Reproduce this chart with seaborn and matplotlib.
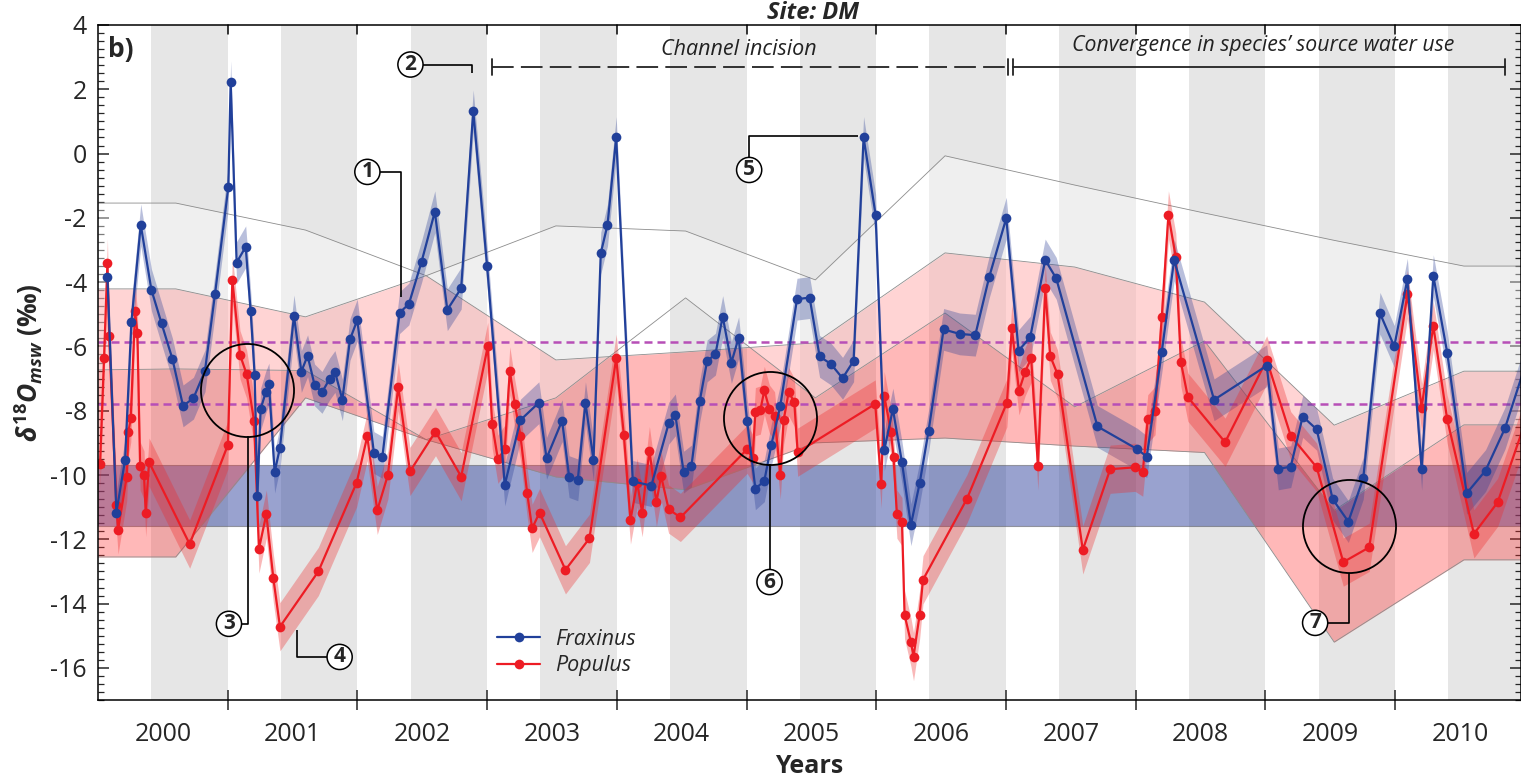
import numpy as np
import pandas as pd
import matplotlib.pyplot as plt
import seaborn as sns
from matplotlib.ticker import MultipleLocator, FixedLocator, NullFormatter

# ── data ────────────────────────────────────────────────────
frax_t = [2000.073, 2000.142, 2000.209, 2000.258, 2000.330, 2000.412, 2000.490, 2000.574,
          2000.656, 2000.736, 2000.825, 2000.902, 2001.005, 2001.023, 2001.069, 2001.139,
          2001.177, 2001.208, 2001.229, 2001.254, 2001.293, 2001.318, 2001.362, 2001.403,
          2001.511, 2001.568, 2001.616, 2001.670, 2001.727, 2001.786, 2001.827, 2001.884,
          2001.943, 2001.999, 2002.127, 2002.192, 2002.325, 2002.397, 2002.495, 2002.597,
          2002.693, 2002.800, 2002.893, 2003.000, 2003.136, 2003.257, 2003.399, 2003.458,
          2003.578, 2003.632, 2003.699, 2003.758, 2003.820, 2003.876, 2003.928, 2003.995,
          2004.123, 2004.266, 2004.400, 2004.451, 2004.515, 2004.575, 2004.639, 2004.696,
          2004.760, 2004.816, 2004.883, 2004.939, 2005.004, 2005.068, 2005.137, 2005.191,
          2005.260, 2005.389, 2005.486, 2005.563, 2005.651, 2005.740, 2005.825, 2005.902,
          2005.995, 2006.062, 2006.128, 2006.198, 2006.267, 2006.334, 2006.403, 2006.519,
          2006.642, 2006.763, 2006.871, 2007.002, 2007.097, 2007.187, 2007.302, 2007.387,
          2007.705, 2008.013, 2008.085, 2008.201, 2008.296, 2008.604, 2009.010, 2009.099,
          2009.195, 2009.287, 2009.395, 2009.518, 2009.639, 2009.754, 2009.883, 2009.993,
          2010.094, 2010.204, 2010.294, 2010.401, 2010.551, 2010.697, 2010.846, 2011.050]
frax_v = [-3.83, -11.17, -9.53, -5.23, -2.22, -4.24, -5.28, -6.39,
          -7.85, -7.61, -6.76, -4.38, -1.05, 2.24, -3.39, -2.90,
          -4.90, -6.89, -10.65, -7.95, -7.43, -7.17, -9.91, -9.15,
          -5.05, -6.78, -6.29, -7.20, -7.43, -7.01, -6.78, -7.66,
          -5.78, -5.18, -9.30, -9.45, -4.95, -4.68, -3.36, -1.81,
          -4.86, -4.19, 1.33, -3.50, -10.31, -8.29, -7.75, -9.48,
          -8.31, -10.05, -10.15, -7.75, -9.53, -3.10, -2.22, 0.50,
          -10.20, -10.33, -8.39, -8.13, -9.91, -9.72, -7.70, -6.45,
          -6.24, -5.07, -6.50, -5.73, -8.31, -10.43, -10.18, -9.06,
          -7.85, -4.53, -4.48, -6.31, -6.55, -6.99, -6.45, 0.50,
          -1.91, -9.22, -7.95, -9.61, -11.55, -10.26, -8.63, -5.47,
          -5.61, -5.65, -3.83, -2.01, -6.13, -5.71, -3.31, -3.88,
          -8.49, -9.20, -9.43, -6.16, -3.31, -7.66, -6.60, -9.81,
          -9.74, -8.18, -8.58, -10.75, -11.45, -10.10, -4.97, -6.00,
          -3.91, -9.82, -3.80, -6.19, -10.57, -9.86, -8.55, -6.00]

pop_t = [2000.016, 2000.047, 2000.073, 2000.086, 2000.142, 2000.155, 2000.222, 2000.235,
         2000.253, 2000.286, 2000.304, 2000.325, 2000.355, 2000.368, 2000.394, 2000.707,
         2001.002, 2001.036, 2001.095, 2001.146, 2001.203, 2001.241, 2001.298, 2001.352,
         2001.403, 2001.699, 2001.994, 2002.076, 2002.153, 2002.235, 2002.315, 2002.405,
         2002.602, 2002.800, 2003.005, 2003.039, 2003.083, 2003.136, 2003.175, 2003.214,
         2003.257, 2003.309, 2003.347, 2003.404, 2003.604, 2003.789, 2003.995, 2004.054,
         2004.105, 2004.157, 2004.195, 2004.251, 2004.305, 2004.341, 2004.399, 2004.490,
         2005.004, 2005.047, 2005.068, 2005.106, 2005.137, 2005.176, 2005.216, 2005.260,
         2005.286, 2005.325, 2005.368, 2005.394, 2005.992, 2006.038, 2006.061, 2006.113,
         2006.133, 2006.159, 2006.198, 2006.218, 2006.267, 2006.287, 2006.334, 2006.360,
         2006.699, 2007.007, 2007.045, 2007.100, 2007.148, 2007.194, 2007.246, 2007.302,
         2007.341, 2007.397, 2007.592, 2007.803, 2007.995, 2008.054, 2008.093, 2008.149,
         2008.201, 2008.252, 2008.309, 2008.348, 2008.402, 2008.689, 2009.010, 2009.195,
         2009.395, 2009.600, 2009.800, 2010.094, 2010.204, 2010.294, 2010.401, 2010.607,
         2010.790, 2011.050]
pop_v = [-9.66, -6.35, -3.40, -5.67, -10.93, -11.71, -10.05, -8.65,
         -8.23, -4.90, -5.59, -9.72, -10.00, -11.17, -9.60, -12.15,
         -9.06, -3.93, -6.26, -6.86, -8.31, -12.30, -11.22, -13.21,
         -14.72, -13.00, -10.24, -8.80, -11.10, -10.00, -7.25, -9.89,
         -8.65, -10.05, -6.00, -8.42, -9.51, -9.20, -6.76, -7.80,
         -8.78, -10.57, -11.66, -11.17, -12.95, -11.97, -6.37, -8.75,
         -11.40, -10.24, -11.17, -9.24, -10.85, -10.03, -11.06, -11.32,
         -9.20, -9.48, -8.03, -7.98, -7.37, -7.95, -8.16, -10.00,
         -8.29, -7.41, -7.74, -9.29, -7.79, -10.28, -7.53, -8.65,
         -9.45, -11.22, -11.45, -14.35, -15.20, -15.65, -14.35, -13.26,
         -10.74, -7.75, -5.43, -7.38, -6.78, -6.37, -9.72, -4.19,
         -6.30, -6.86, -12.33, -9.82, -9.76, -9.91, -8.25, -8.00,
         -5.09, -1.91, -3.23, -6.49, -7.58, -8.98, -6.42, -8.78,
         -9.76, -12.71, -12.25, -4.38, -7.90, -5.36, -8.27, -11.83,
         -10.85, -7.80]

frax_err = 0.65
pop_err = 0.75

# source-water envelopes (vertex dates shared)
env_t = [2000.0, 2000.6, 2001.6, 2002.53, 2003.53, 2004.53, 2005.53, 2006.53,
         2007.53, 2008.53, 2009.53, 2010.53, 2011.0]
light_top = [-1.54, -1.54, -2.38, -3.80, -2.25, -2.41, -3.93, -0.07, -0.98, -1.85, -2.70, -3.50, -3.50]
light_bot = [-6.73, -6.70, -6.75, -8.90, -7.60, -4.49, -7.60, -4.96, -7.88, -5.83, -11.10, -8.44, -8.44]
pink_top = [-4.21, -4.21, -5.08, -3.80, -6.42, -6.17, -5.89, -3.09, -3.53, -4.62, -8.45, -6.77, -6.77]
pink_bot = [-12.55, -12.55, -7.60, -8.90, -10.06, -10.46, -9.00, -8.85, -9.10, -9.30, -15.20, -12.64, -12.64]

gw_range = (-11.6, -9.7)
dashed_levels = [-5.85, -7.8]
years = list(range(2000, 2011))
year_labels = [str(y) for y in years]

frax = pd.DataFrame({'t': frax_t, 'v': frax_v})
pop = pd.DataFrame({'t': pop_t, 'v': pop_v})

# ── style ───────────────────────────────────────────────────
sns.set_theme(style='ticks')
plt.rcParams.update({
    'font.family': ['Open Sans', 'DejaVu Sans'],
    'axes.unicode_minus': False,
    'mathtext.fontset': 'custom',
    'mathtext.it': 'Open Sans:italic:bold',
    'mathtext.rm': 'Open Sans:bold',
    'mathtext.bf': 'Open Sans:bold',
    'axes.edgecolor': 'black',
    'axes.linewidth': 1.1,
})

BLUE = '#21409a'
RED = '#ed1c24'
GRAY_BAND = '#e6e6e6'
INK = '#222222'

fig = plt.figure(figsize=(15.21, 7.81), dpi=100)
ax = fig.add_axes([0.0644, 0.1037, 0.9356, 0.8643])
ax.set_xlim(2000.0, 2010.97)
ax.set_ylim(-17, 4)

# growing-season shading
for yr in years:
    ax.axvspan(yr + 0.41, yr + 1.0, color=GRAY_BAND, lw=0, zorder=0)

# groundwater band, envelopes
ax.axhspan(gw_range[0], gw_range[1], facecolor='#3447a0', alpha=0.5,
           edgecolor='#555555', lw=0.8, zorder=1)
ax.fill_between(env_t, pink_bot, pink_top, color='#ff3030', alpha=0.34, lw=0, zorder=2)
ax.fill_between(env_t, light_bot, light_top, color='white', alpha=0.4, lw=0, zorder=2.1)
for edge in [light_top, light_bot, pink_top, pink_bot]:
    ax.plot(env_t, edge, color='#8c8c8c', lw=0.6, zorder=2.2)

for lev in dashed_levels:
    ax.axhline(lev, color='#b74fb7', lw=1.8, ls=(0, (3.2, 2.0)), zorder=3)

# species series
ax.fill_between(frax['t'], frax['v'] - frax_err, frax['v'] + frax_err,
                color='#2b3f96', alpha=0.33, lw=0, zorder=4)
ax.fill_between(pop['t'], pop['v'] - pop_err, pop['v'] + pop_err,
                color='#ee2a2a', alpha=0.33, lw=0, zorder=4)
sns.lineplot(data=frax, x='t', y='v', ax=ax, color=BLUE, lw=1.6, marker='o',
             markersize=7, markeredgewidth=0, sort=False, errorbar=None,
             label='Fraxinus', zorder=6)
sns.lineplot(data=pop, x='t', y='v', ax=ax, color=RED, lw=1.6, marker='o',
             markersize=7, markeredgewidth=0, sort=False, errorbar=None,
             label='Populus', zorder=5)

# ── annotations ─────────────────────────────────────────────
def circled(x, y, s):
    ax.text(x, y, s, ha='center', va='center', fontsize=15, fontweight='bold',
            zorder=9, bbox=dict(boxstyle='circle,pad=0.1', fc='white', ec='black', lw=1.1))

def leader(pts):
    xs, ys = zip(*pts)
    ax.plot(xs, ys, color='black', lw=1.2, zorder=8, solid_capstyle='butt')

def ring(x, y):
    ax.plot([x], [y], marker='o', ms=67, mfc='none', mec='black', mew=1.3, zorder=8)

circled(2002.077, -0.57, '1')
leader([(2002.15, -0.57), (2002.333, -0.57), (2002.333, -4.46)])
circled(2002.409, 2.77, '2')
leader([(2002.48, 2.77), (2002.885, 2.77), (2002.885, 2.5)])
ring(2001.149, -7.34)
circled(2001.01, -14.63, '3')
leader([(2001.08, -14.63), (2001.153, -14.63), (2001.153, -8.79)])
circled(2001.863, -15.66, '4')
leader([(2001.79, -15.66), (2001.537, -15.66), (2001.537, -14.82)])
circled(2005.02, -0.51, '5')
leader([(2005.02, -0.2), (2005.02, 0.55), (2005.86, 0.55)])
ring(2005.177, -8.22)
circled(2005.177, -13.33, '6')
leader([(2005.177, -9.67), (2005.177, -13.0)])
ring(2009.645, -11.6)
circled(2009.383, -14.6, '7')
leader([(2009.645, -13.05), (2009.645, -14.6), (2009.46, -14.6)])

# period brackets
ax.plot([2003.04, 2007.017], [2.7, 2.7], color=INK, lw=1.3, ls=(0, (12, 4)), zorder=8)
ax.plot([2007.055, 2010.85], [2.7, 2.7], color=INK, lw=1.3, zorder=8)
for xb in [2003.04, 2007.017, 2007.055, 2010.85]:
    ax.plot([xb, xb], [2.45, 2.95], color=INK, lw=1.3, zorder=8)
ax.text(2004.94, 3.25, 'Channel incision', ha='center', va='center',
        fontsize=15.5, style='italic', color=INK)
ax.text(2008.98, 3.35, 'Convergence in species\u2019 source water use', ha='center',
        va='center', fontsize=15.3, style='italic', color=INK)

ax.text(0.007, 0.963, 'b)', transform=ax.transAxes, ha='left', va='center',
        fontsize=19, fontweight='bold')
fig.text(0.5345, 0.976, 'Site: DM', ha='center', va='baseline', fontsize=17,
         fontweight='bold', style='italic')

# ── axes ────────────────────────────────────────────────────
ax.yaxis.set_major_locator(MultipleLocator(2))
ax.yaxis.set_minor_locator(MultipleLocator(0.25))
ax.xaxis.set_major_locator(FixedLocator([y + 1 for y in years[:-1]]))
ax.xaxis.set_major_formatter(NullFormatter())
ax.xaxis.set_minor_locator(FixedLocator([y + 0.5 for y in years]))
ax.set_xticklabels(year_labels, minor=True)
ax.tick_params(axis='y', which='major', direction='in', length=8, width=1.1,
               left=True, right=True, labelsize=18, pad=8)
ax.tick_params(axis='y', which='minor', direction='in', length=4, width=0.9,
               left=True, right=True)
ax.tick_params(axis='x', which='major', direction='inout', length=14, width=1.1,
               bottom=True, top=False)
ax.tick_params(axis='x', which='minor', length=0, labelsize=18, pad=16)
for xt in [y + 1 for y in years[:-1]]:
    ax.plot([xt, xt], [4, 3.72], color='black', lw=1.1, zorder=9, clip_on=False)

ax.set_xlabel('Years', fontsize=18, fontweight='bold', labelpad=5)
ax.set_ylabel(r'$\delta^{18}O_{msw}$ (‰)', fontsize=19, fontweight='bold', labelpad=4)
for s in ax.spines.values():
    s.set_visible(True)
    s.set_zorder(10)

ax.legend(loc='upper left', bbox_to_anchor=(0.270, 0.128), frameon=False,
          prop={'style': 'italic', 'size': 15.5}, handlelength=2.0,
          handletextpad=0.7, labelspacing=0.25, borderpad=0.2)

fig.savefig('out.png', dpi=100)
